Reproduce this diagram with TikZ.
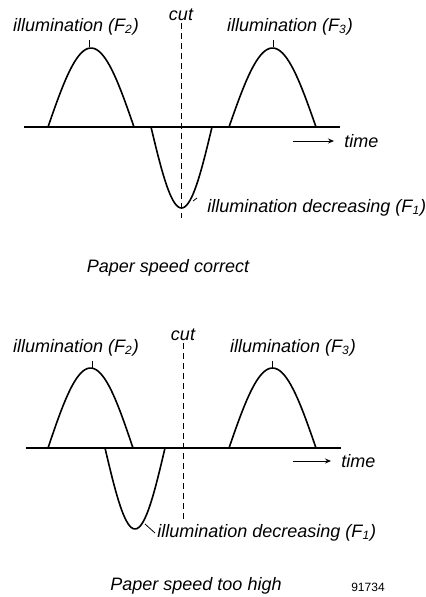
\documentclass[tikz,border=0pt]{standalone}
\usepackage{fontspec}
\setmainfont{Liberation Sans}
\usetikzlibrary{arrows.meta,positioning}
\tikzset{
  lbl/.style={font=\fontsize{9}{10}\selectfont\itshape, inner sep=1pt},
  capt/.style={font=\fontsize{9}{11}\selectfont\itshape, inner sep=1pt},
  curve/.style={line width=0.8pt},
  axisline/.style={line width=0.6pt},
  cutline/.style={dashed, dash pattern=on 3pt off 2pt, line width=0.4pt},
}

\begin{document}
\begin{tikzpicture}[x=0.5pt,y=-0.5pt]
  \useasboundingbox (0,0) rectangle (425,597);

  % ---- Paper speed correct ----
  % time axis
  \draw[axisline] (24,127) -- (340,127);

  % cut
  \node[lbl] (cutA) at (181,15) {cut};
  \draw[cutline] (cutA.south) -- (181,218);

  % F2 hump, F3 hump, F1 dip
  \draw[curve,domain=0:180,samples=40,variable=\t]
    plot ({48+86*\t/180},{127-79*sin(\t)});
  \draw[curve,domain=0:180,samples=40,variable=\t]
    plot ({229+87*\t/180},{127-79*sin(\t)});
  \draw[curve,domain=0:180,samples=40,variable=\t]
    plot ({151+61*\t/180},{127+81*sin(\t)});

  % labels
  \node[lbl] (ftwoA) at (76,27) {illumination (F\textsubscript{2})};
  \draw (89,47) -- (89,40);
  \node[lbl] (fthreeA) at (290,27) {illumination (F\textsubscript{3})};
  \draw (273,47) -- (273,40);
  \node[lbl,anchor=west] (fdecA) at (205,208) {illumination decreasing (F\textsubscript{1})};
  \coordinate (legA) at (193,201);
  \draw (legA) -- (197,198);
  \node[lbl,anchor=west] (timeA) at (342,141) {time};
  \coordinate (tailA) at (293,141);
  \draw[-{Stealth[length=3pt,width=2.5pt]},shorten >=4pt] (tailA) -- (timeA.west);

  \node[capt] (captA) at (168,268) {Paper speed correct};

  % ---- Paper speed too high ----
  \draw[axisline] (26,448) -- (341,448);

  \node[lbl] (cutB) at (183,335) {cut};
  \draw[cutline] (cutB.south) -- (183,521);

  \draw[curve,domain=0:180,samples=40,variable=\t]
    plot ({48+85*\t/180},{448-80*sin(\t)});
  \draw[curve,domain=0:180,samples=40,variable=\t]
    plot ({229+87*\t/180},{448-80*sin(\t)});
  \draw[curve,domain=0:180,samples=40,variable=\t]
    plot ({105+60*\t/180},{448+81*sin(\t)});

  \node[lbl] (ftwoB) at (76,348) {illumination (F\textsubscript{2})};
  \draw (92,368) -- (92,361);
  \node[lbl] (fthreeB) at (293,348) {illumination (F\textsubscript{3})};
  \draw (272,368) -- (272,361);
  \node[lbl,anchor=west] (fdecB) at (155,533) {illumination decreasing (F\textsubscript{1})};
  \coordinate (legB) at (145,524);
  \draw (legB) -- (fdecB.west);
  \node[lbl,anchor=west] (timeB) at (339,461) {time};
  \coordinate (tailB) at (293,461);
  \draw[-{Stealth[length=3pt,width=2.5pt]},shorten >=4pt] (tailB) -- (timeB.west);

  \node[capt] (captB) at (196,586) {Paper speed too high};
  \node[font=\fontsize{6}{7}\selectfont] (fignum) at (368,587) {91734};
\end{tikzpicture}
\end{document}
